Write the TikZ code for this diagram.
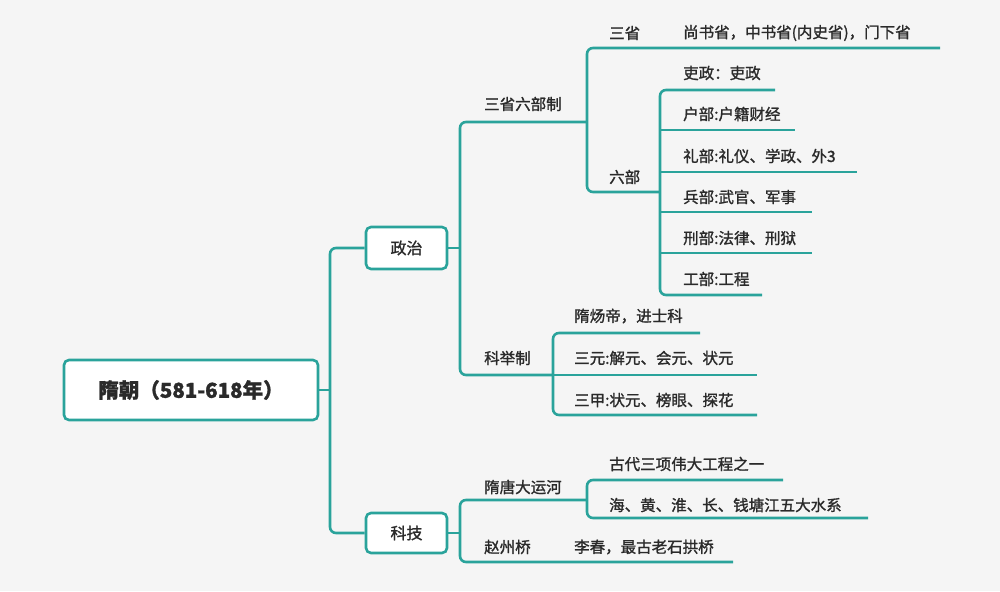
\documentclass[tikz,border=0pt]{standalone}
\usepackage{fontspec}
\newfontfamily\cjk[FakeBold=1.3]{Noto Sans CJK SC}
\definecolor{ln}{HTML}{2AA39B}
\definecolor{tx}{HTML}{2A2A2A}
\definecolor{bg}{HTML}{F5F5F5}
\begin{document}
\begin{tikzpicture}[x=1pt,y=-1pt,
  br/.style={draw=ln,line width=2.6pt,rounded corners=6pt},
  lbl/.style={anchor=west,inner sep=0pt,font=\cjk\fontsize{15.5}{17}\selectfont,text=tx},
  box/.style={draw=ln,line width=2.6pt,rounded corners=5pt,fill=white,text=tx}]
\fill[bg] (0,0) rectangle (1000,591);
\useasboundingbox (0,0) rectangle (1000,591);
% root
\node[box,minimum width=254pt,minimum height=60pt,font=\cjk\bfseries\fontsize{20.5}{23}\selectfont] (root) at (191,390) {隋朝（581-618年）};
\node[box,minimum width=81pt,minimum height=42pt,font=\cjk\fontsize{16}{18}\selectfont] (zz) at (406.5,248) {政治};
\node[box,minimum width=81pt,minimum height=40pt,font=\cjk\fontsize{16}{18}\selectfont] (kj) at (406.5,533) {科技};
\draw[br] (root.east) -- (330,390);
\draw[br] (zz.west) -- (330,248) -- (330,533) -- (kj.west);
% 政治
\coordinate (a) at (587,122);
\coordinate (b) at (553,375);
\draw[br] (zz.east) -- (460,248);
\draw[br] (a) -- (460,122) -- (460,375) -- (b);
\node[lbl] (n1) at (484,104) {三省六部制};
\node[lbl] (n2) at (484,358) {科举制};
% 三省六部制
\coordinate (c) at (660,192);
\draw[br] (940,48) -- (587,48) -- (587,192) -- (c);
\node[lbl] (s1) at (609,33) {三省};
\node[lbl] (s2) at (683,33) {尚书省，中书省(内史省)，门下省};
\node[lbl] (s3) at (609,177) {六部};
\draw[br] (775,90) -- (660,90) -- (660,295) -- (762,295);
\foreach \y/\e in {130/795,172/857,212/812,253/812} \draw[br] (660,\y) -- (\e,\y);
\node[lbl] (l1) at (683,73) {吏政：吏政};
\node[lbl] (l2) at (683,114) {户部:户籍财经};
\node[lbl] (l3) at (683,156) {礼部:礼仪、学政、外3};
\node[lbl] (l4) at (683,197) {兵部:武官、军事};
\node[lbl] (l5) at (683,238) {刑部:法律、刑狱};
\node[lbl] (l6) at (683,279) {工部:工程};
% 科举制
\draw[br] (700,333) -- (553,333) -- (553,415) -- (757,415);
\draw[br] (553,375) -- (757,375);
\node[lbl] (k1) at (574,316) {隋炀帝，进士科};
\node[lbl] (k2) at (574,358) {三元:解元、会元、状元};
\node[lbl] (k3) at (574,400) {三甲:状元、榜眼、探花};
% 科技
\draw[br] (kj.east) -- (460,533);
\draw[br] (587,500) -- (460,500) -- (460,562) -- (733,562);
\node[lbl] (t1) at (484,487) {隋唐大运河};
\node[lbl] (t2) at (484,547) {赵州桥};
\node[lbl] (t3) at (574,547) {李春，最古老石拱桥};
\draw[br] (783,480) -- (587,480) -- (587,518) -- (868,518);
\draw[br] (587,500) -- (587,490);
\node[lbl] (y1) at (609,464) {古代三项伟大工程之一};
\node[lbl] (y2) at (609,505) {海、黄、淮、长、钱塘江五大水系};
\end{tikzpicture}
\end{document}
